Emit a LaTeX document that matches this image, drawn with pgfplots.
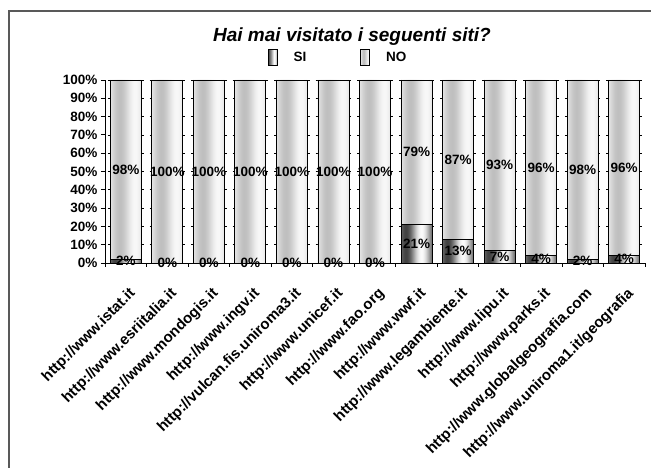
\documentclass[border=0pt]{standalone}
\usepackage{pgfplots}
\pgfplotsset{compat=1.18}
\usepackage{fontspec}
\setmainfont{Liberation Sans}
\definecolor{nA}{HTML}{E6E6E6}
\definecolor{nB}{HTML}{C4C4C4}
\definecolor{nC}{HTML}{BCBCBC}
\definecolor{nD}{HTML}{DCDCDC}
\definecolor{nE}{HTML}{F6F6F6}
\definecolor{nF}{HTML}{D4D4D4}
\definecolor{sA}{HTML}{3C3C3C}
\definecolor{sB}{HTML}{8C8C8C}
\definecolor{sC}{HTML}{FFFFFF}
\definecolor{sD}{HTML}{E8E8E8}
\definecolor{sE}{HTML}{8A8A8A}
\pgfdeclarehorizontalshading{noleg}{100bp}{color(0bp)=(nA); color(25bp)=(nA); color(35bp)=(nB); color(42bp)=(nC); color(55bp)=(nD); color(65bp)=(nE); color(75bp)=(nF); color(100bp)=(nF)}
\pgfdeclarehorizontalshading{sileg}{100bp}{color(0bp)=(sA); color(25bp)=(sA); color(40bp)=(sB); color(57bp)=(sC); color(67bp)=(sD); color(75bp)=(sE); color(100bp)=(sE)}
% periodic shadings: one period per category (41.538pt), bar 31pt, series span 529.46pt -> 50bp
\pgfdeclarefunctionalshading{nofun}{\pgfpointorigin}{\pgfpoint{100bp}{100bp}}{}{
  pop 25 sub 3.9227 div dup floor sub 1.34 mul 0.8 sub 360 mul cos 0.11 mul 0.86 add dup dup
}
\pgfdeclarefunctionalshading{sifun}{\pgfpointorigin}{\pgfpoint{100bp}{100bp}}{}{
  pop 25 sub 3.9227 div dup floor sub 1.34 mul 0.65 sub 360 mul cos 0.36 mul 0.62 add dup dup
}
\pgfplotsset{
  silegimg/.style={legend image code/.code={\draw[##1, shading=sileg] (0pt,-8pt) rectangle (9pt,8pt);}},
  nolegimg/.style={legend image code/.code={\draw[##1, shading=noleg] (0pt,-8pt) rectangle (9pt,8pt);}},
}
\begin{document}
\begin{tikzpicture}[x=1pt,y=1pt]
\useasboundingbox (0,0) rectangle (651,468);
\draw[line width=2pt, black!65] (9,-30) |- (720,457);
\node[anchor=base, font=\bfseries\itshape\fontsize{19}{22}\selectfont] at (352,426) {Hai mai visitato i seguenti siti?};
\begin{axis}[
  at={(105pt,205pt)}, anchor=south west,
  scale only axis, width=540pt, height=183pt,
  xmin=-0.5, xmax=12.5, ymin=0, ymax=100,
  ybar stacked, bar width=31pt,
  axis lines=left, axis line style={-, line width=0.8pt, black},
  tick align=outside, major tick length=4pt,
  tick style={black, line width=0.8pt},
  xtick={-0.5,0.5,...,12.5}, xticklabels={},
  extra x ticks={0,1,...,12},
  extra x tick labels={http://www.istat.it,http://www.esriitalia.it,http://www.mondogis.it,http://www.ingv.it,http://vulcan.fis.uniroma3.it,http://www.unicef.it,http://www.fao.org,http://www.wwf.it,http://www.legambiente.it,http://www.lipu.it,http://www.parks.it,http://www.globalgeografia.com,http://www.uniroma1.it/geografia},
  extra x tick style={major tick length=0pt, tick style={draw=none}, xticklabel style={rotate=45, anchor=north east, inner sep=1pt, yshift=-17pt, xshift=-14pt, font=\bfseries\fontsize{15}{17}\selectfont}},
  ytick={0,10,...,100},
  yticklabel={\pgfmathprintnumber{\tick}\%},
  ymajorgrids,
  major grid style={black, line width=0.7pt, dash pattern=on 35.54pt off 6pt, dash phase=38.54pt},
  ticklabel style={font=\bfseries\fontsize{13.5}{15}\selectfont},
  /pgf/number format/assume math mode=true,
  legend style={at={(0.4315,1.123)}, anchor=center, draw=none, fill=none,
    legend columns=2, font=\bfseries\fontsize{13.5}{15}\selectfont,
    /tikz/every odd column/.append style={column sep=14pt},
    /tikz/every even column/.append style={column sep=52pt}},
]
\addplot[draw=black, line width=0.8pt, shading=sifun, silegimg] coordinates {
(0,2) (1,0) (2,0) (3,0) (4,0) (5,0) (6,0) (7,21) (8,13) (9,7) (10,4) (11,2) (12,4)};
\addlegendentry{SI}
\addplot[draw=black, line width=0.8pt, shading=nofun, nolegimg] coordinates {
(0,98) (1,100) (2,100) (3,100) (4,100) (5,100) (6,100) (7,79) (8,87) (9,93) (10,96) (11,98) (12,96)};
\addlegendentry{NO}
\end{axis}
\begin{axis}[
  at={(105pt,205pt)}, anchor=south west,
  scale only axis, width=540pt, height=183pt,
  xmin=-0.5, xmax=12.5, ymin=0, ymax=100,
  hide axis, clip=false,
]
\addplot[only marks, mark=none, point meta=explicit,
  nodes near coords={\pgfmathprintnumber{\pgfplotspointmeta}\%},
  every node near coord/.style={anchor=center, inner sep=0pt, font=\bfseries\fontsize{13.5}{15}\selectfont},
  /pgf/number format/assume math mode=true]
table[meta=m] {
x y m
0 1 2
1 0 0
2 0 0
3 0 0
4 0 0
5 0 0
6 0 0
7 10.5 21
8 6.5 13
9 3.5 7
10 2 4
11 1 2
12 2 4
0 51 98
1 50 100
2 50 100
3 50 100
4 50 100
5 50 100
6 50 100
7 60.5 79
8 56.5 87
9 53.5 93
10 52 96
11 51 98
12 52 96
};
\end{axis}
\end{tikzpicture}
\end{document}
